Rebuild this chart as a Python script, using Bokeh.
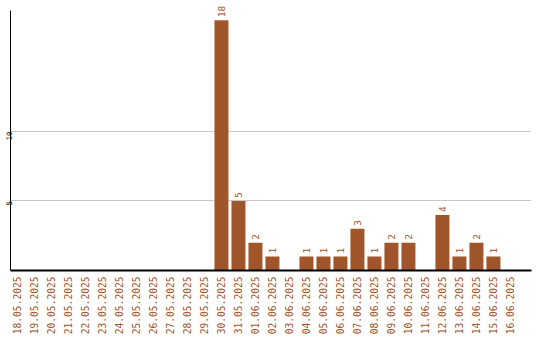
import math
from bokeh.plotting import figure
from bokeh.models import Range1d, FixedTicker, ColumnDataSource
from bokeh.core.properties import value
from bokeh.embed import file_html
from bokeh.resources import INLINE

dates = ["18.05.2025", "19.05.2025", "20.05.2025", "21.05.2025", "22.05.2025",
         "23.05.2025", "24.05.2025", "25.05.2025", "26.05.2025", "27.05.2025",
         "28.05.2025", "29.05.2025", "30.05.2025", "31.05.2025", "01.06.2025",
         "02.06.2025", "03.06.2025", "04.06.2025", "05.06.2025", "06.06.2025",
         "07.06.2025", "08.06.2025", "09.06.2025", "10.06.2025", "11.06.2025",
         "12.06.2025", "13.06.2025", "14.06.2025", "15.06.2025", "16.06.2025"]
counts = [0, 0, 0, 0, 0, 0, 0, 0, 0, 0, 0, 0, 18, 5, 2, 1, 0, 1, 1, 1,
          3, 1, 2, 2, 0, 4, 1, 2, 1, 0]
y_ticks = [5, 10]

BROWN = "#A0562A"
MONO = "DejaVu Sans Mono"

idx = list(range(len(dates)))
src = ColumnDataSource(dict(x=idx, y=counts))
nz = [i for i in idx if counts[i] > 0]
lab = ColumnDataSource(dict(x=nz, y=[counts[i] for i in nz], t=[str(counts[i]) for i in nz]))

p = figure(width=540, height=340, output_backend="svg", toolbar_location=None,
           x_range=Range1d(-0.41, 30.24), y_range=Range1d(0, 19.06),
           min_border_left=10, min_border_top=5, min_border_right=9, min_border_bottom=70)
p.outline_line_color = None
p.background_fill_color = "white"
p.border_fill_color = "white"

p.vbar(x="x", top="y", width=14/17, source=src, color=BROWN, line_color=None)
p.text(x="x", y="y", text="t", source=lab, angle=math.pi/2, text_align="left",
       text_baseline="middle", x_offset=0, y_offset=-3, text_color=BROWN,
       text_font=value(MONO), text_font_size="9.5px")

xa = p.xaxis[0]
xa.ticker = FixedTicker(ticks=idx)
xa.major_label_overrides = {i: d for i, d in enumerate(dates)}
xa.major_label_orientation = math.pi/2
xa.major_label_text_color = BROWN
xa.major_label_text_font = MONO
xa.major_label_text_font_size = "9.6px"
xa.major_tick_line_color = None
xa.minor_tick_line_color = None
xa.major_tick_out = 0
xa.major_label_standoff = 6
xa.axis_line_color = "black"
xa.axis_line_width = 2

ya = p.yaxis[0]
ya.ticker = FixedTicker(ticks=y_ticks)
ya.bounds = (0, 18.7)
ya.major_label_orientation = math.pi/2
ya.major_label_text_color = "black"
ya.major_label_text_font = MONO
ya.major_label_text_font_size = "7.5px"
ya.major_tick_line_color = None
ya.minor_tick_line_color = None
ya.major_tick_out = 0
ya.major_label_standoff = 1
ya.axis_line_color = "black"
ya.axis_line_width = 1

p.xgrid.grid_line_color = None
p.ygrid.grid_line_color = "#C8C8C8"
p.ygrid.ticker = FixedTicker(ticks=y_ticks)

open("out.html", "w").write(file_html(p, INLINE))
